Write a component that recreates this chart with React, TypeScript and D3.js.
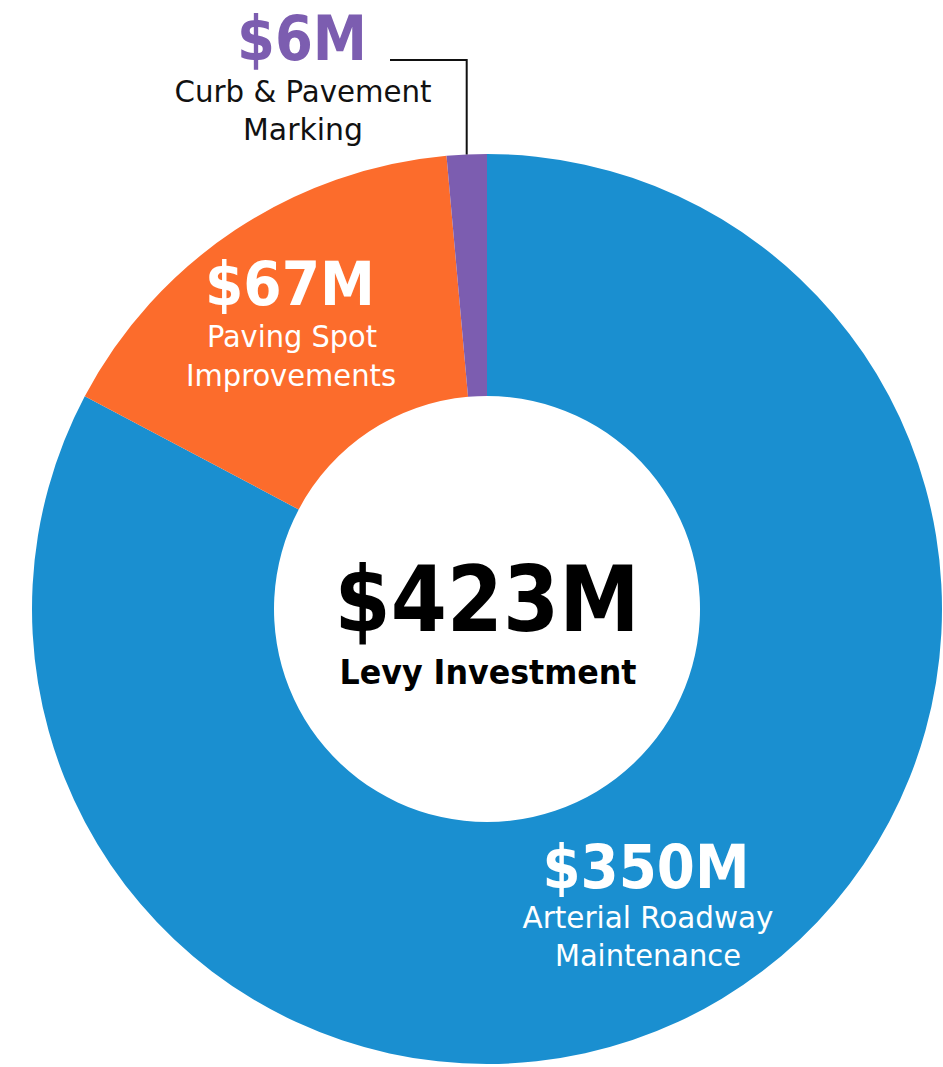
import React from 'react'
import * as d3 from 'd3'

const categories = ['Arterial Roadway Maintenance', 'Paving Spot Improvements', 'Curb & Pavement Marking']
const values = [350, 67, 6]
const valueLabels = ['$350M', '$67M', '$6M']
const colors = ['#1a8fd0', '#fc6c2c', '#7c5db0']
const totalLabel = '$423M'
const totalCaption = 'Levy Investment'

const W = 943
const H = 1067
const cx = 487
const cy = 609
const outerR = 455
const innerR = 213

const font = '"DejaVu Sans Condensed", "DejaVu Sans", sans-serif'

export default function App() {
    const pie = d3.pie<number>().sort(null).value(d => d)
    const arcs = pie(values)
    const arc = d3.arc<d3.PieArcDatum<number>>().innerRadius(innerR).outerRadius(outerR)

    // leader from the small slice's outer edge up to its label
    const purple = arcs[2]
    const mid = (purple.startAngle + purple.endAngle) / 2
    const lx = cx + Math.sin(mid) * outerR
    const ly = cy - Math.cos(mid) * outerR

    return (
        <svg width={W} height={H} style={{ position: 'absolute', left: 0, top: 0, background: '#fff' }}>
            <g transform={`translate(${cx},${cy})`}>
                {arcs.map((a, i) => (
                    <path key={categories[i]} d={arc(a) || ''} fill={colors[i]} />
                ))}
            </g>
            <polyline points={`390,60 ${lx.toFixed(1)},60 ${lx.toFixed(1)},${ly.toFixed(1)}`} fill="none" stroke="#111" strokeWidth={2} />

            {/* centre */}
            <text x={487} y={631} textAnchor="middle" fontFamily={font} fontWeight="bold" fontSize={90} fill="#000" textLength={305} lengthAdjust="spacingAndGlyphs">{totalLabel}</text>
            <text x={488} y={684} textAnchor="middle" fontFamily={font} fontWeight="bold" fontSize={34} fill="#000" textLength={297} lengthAdjust="spacingAndGlyphs">{totalCaption}</text>

            {/* $6M */}
            <text x={302} y={60} textAnchor="middle" fontFamily={font} fontWeight="bold" fontSize={62} fill={colors[2]} textLength={130} lengthAdjust="spacingAndGlyphs">{valueLabels[2]}</text>
            <text x={303} y={102} textAnchor="middle" fontFamily={font} fontSize={30} fill="#111" textLength={257} lengthAdjust="spacingAndGlyphs">Curb &amp; Pavement</text>
            <text x={303} y={140} textAnchor="middle" fontFamily={font} fontSize={30} fill="#111" textLength={120} lengthAdjust="spacingAndGlyphs">Marking</text>

            {/* $67M */}
            <text x={290} y={305} textAnchor="middle" fontFamily={font} fontWeight="bold" fontSize={60} fill="#fff" textLength={170} lengthAdjust="spacingAndGlyphs">{valueLabels[1]}</text>
            <text x={292} y={347} textAnchor="middle" fontFamily={font} fontSize={30} fill="#fff" textLength={170} lengthAdjust="spacingAndGlyphs">Paving Spot</text>
            <text x={291} y={386} textAnchor="middle" fontFamily={font} fontSize={30} fill="#fff" textLength={210} lengthAdjust="spacingAndGlyphs">Improvements</text>

            {/* $350M */}
            <text x={646} y={888} textAnchor="middle" fontFamily={font} fontWeight="bold" fontSize={60} fill="#fff" textLength={207} lengthAdjust="spacingAndGlyphs">{valueLabels[0]}</text>
            <text x={648} y={928} textAnchor="middle" fontFamily={font} fontSize={30} fill="#fff" textLength={251} lengthAdjust="spacingAndGlyphs">Arterial Roadway</text>
            <text x={648} y={966} textAnchor="middle" fontFamily={font} fontSize={30} fill="#fff" textLength={186} lengthAdjust="spacingAndGlyphs">Maintenance</text>
        </svg>
    )
}
